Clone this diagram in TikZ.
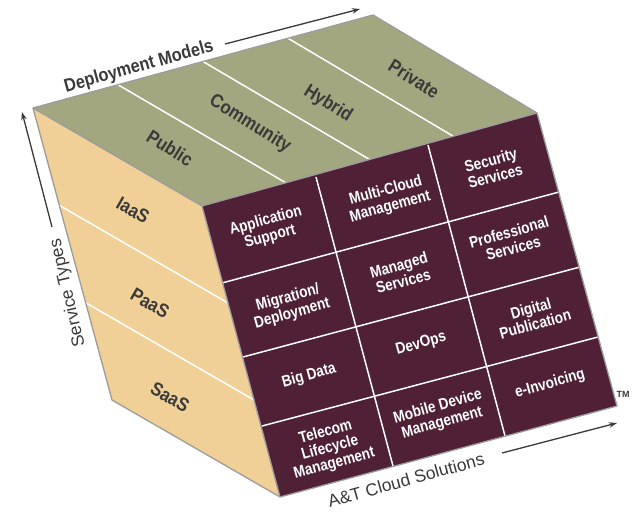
\documentclass[tikz,border=0pt]{standalone}
\usepackage{fontspec}
\setmainfont{Liberation Sans}
\newfontfamily\narrowfont[FakeStretch=0.88]{Liberation Sans}
\newfontfamily\cellfont[FakeStretch=0.85]{Liberation Sans}
\usetikzlibrary{arrows.meta,calc}
\definecolor{cubemaroon}{HTML}{4F2036}
\definecolor{cubeolive}{HTML}{A3A780}
\definecolor{cubetan}{HTML}{F1D097}
\definecolor{labelgray}{HTML}{3A3A3A}
\definecolor{edgegray}{HTML}{9C9C9C}
\begin{document}
\begin{tikzpicture}[x=1pt,y=-1pt,
  facelabel/.style={text=labelgray,inner sep=0pt,font=\narrowfont\bfseries\fontsize{19}{21}\selectfont},
  cell/.style={text=white,align=center,inner sep=0pt,rotate=15.5,font=\cellfont\bfseries\fontsize{16}{16.5}\selectfont},
  divider/.style={white,line width=1.5pt},
  cubeedge/.style={edgegray,line width=1.3pt,line join=round},
  axisarrow/.style={-{Stealth[length=8pt,width=5.5pt]},line width=1.3pt,draw=labelgray,fill=labelgray},
  axislabel/.style={text=labelgray,inner sep=0pt,font=\fontsize{17.5}{19}\selectfont}]
\useasboundingbox (0,0) rectangle (642,511);
% corners
\coordinate (A) at (33,108);
\coordinate (B) at (373,15);
\coordinate (C) at (537,113);
\coordinate (D) at (202,206);
\coordinate (E) at (280,497);
\coordinate (F) at (112,400);
\coordinate (G) at (617,406);
% faces
\fill[cubeolive] (A)--(B)--(C)--(D)--cycle;
\fill[cubetan] (A)--(D)--(E)--(F)--cycle;
\fill[cubemaroon] (D)--(C)--(G)--(E)--cycle;
% top dividers
\foreach \f in {0.25,0.5,0.75}{
  \draw[divider] ($(A)!\f!(B)$) -- ($(D)!\f!(C)$);
}
% left dividers
\foreach \f in {0.3333,0.6667}{
  \draw[divider] ($(A)!\f!(F)$) -- ($(D)!\f!(E)$);
}
% front grid
\coordinate (r1a) at (222,283); \coordinate (r1b) at (559,192);
\coordinate (r2a) at (243,357); \coordinate (r2b) at (580,267);
\coordinate (r3a) at (262,426); \coordinate (r3b) at (598,337);
\coordinate (c1a) at (316,177); \coordinate (c1b) at (393,466);
\coordinate (c2a) at (428,145); \coordinate (c2b) at (505,436);
\draw[divider] (r1a) -- (r1b);
\draw[divider] (r2a) -- (r2b);
\draw[divider] (r3a) -- (r3b);
\draw[divider] (c1a) -- (c1b);
\draw[divider] (c2a) -- (c2b);
% edges
\draw[cubeedge] (A)--(B)--(C)--(G)--(E)--(F)--cycle;
\draw[cubeedge] (A)--(D)--(E);
\draw[cubeedge] (D)--(C);
% top labels
\node[facelabel,rotate=-32] (public) at (170,148) {Public};
\node[facelabel,rotate=-32] (community) at (250,124) {Community};
\node[facelabel,rotate=-32] (hybrid) at (328,104) {Hybrid};
\node[facelabel,rotate=-32] (private) at (414,79) {Private};
% left labels
\node[facelabel,rotate=-30] (iaas) at (133,210) {IaaS};
\node[facelabel,rotate=-30] (paas) at (150,303) {PaaS};
\node[facelabel,rotate=-30] (saas) at (170,397) {SaaS};
% front cells
\node[cell] (appsup) at (268,229) {Application\\Support};
\node[cell] (multicloud) at (388,199) {Multi-Cloud\\Management};
\node[cell] (security) at (493,168) {Security\\Services};
\node[cell] (migration) at (290,306) {Migration/\\Deployment};
\node[cell] (managed) at (401,273) {Managed\\Services};
\node[cell] (professional) at (511,240) {Professional\\Services};
\node[cell] (bigdata) at (309,376) {Big Data};
\node[cell] (devops) at (421,344) {DevOps};
\node[cell] (digital) at (533,316) {Digital\\Publication};
\node[cell] (telecom) at (330,448) {Telecom\\Lifecycle\\Management};
\node[cell] (mobile) at (440,415) {Mobile Device\\Management};
\node[cell] (einv) at (550,384) {e-Invoicing};
% axes
\coordinate (dmA) at (225,44); \coordinate (dmB) at (360,9);
\draw[axisarrow] (dmA) -- (dmB);
\node[axislabel,font=\narrowfont\bfseries\fontsize{18.5}{20}\selectfont,rotate=15.5] (dm) at (139,67) {Deployment Models};
\coordinate (stA) at (52,227); \coordinate (stB) at (22,112);
\draw[axisarrow] (stA) -- (stB);
\node[axislabel,rotate=103] (st) at (68,293) {Service Types};
\coordinate (atA) at (502,453); \coordinate (atB) at (617,423);
\draw[axisarrow] (atA) -- (atB);
\node[axislabel,rotate=15.5] (at) at (406,480) {A\&T Cloud Solutions};
\node[text=labelgray,inner sep=0pt,font=\bfseries\fontsize{9}{10}\selectfont] (tm) at (623,394) {TM};
\end{tikzpicture}
\end{document}
